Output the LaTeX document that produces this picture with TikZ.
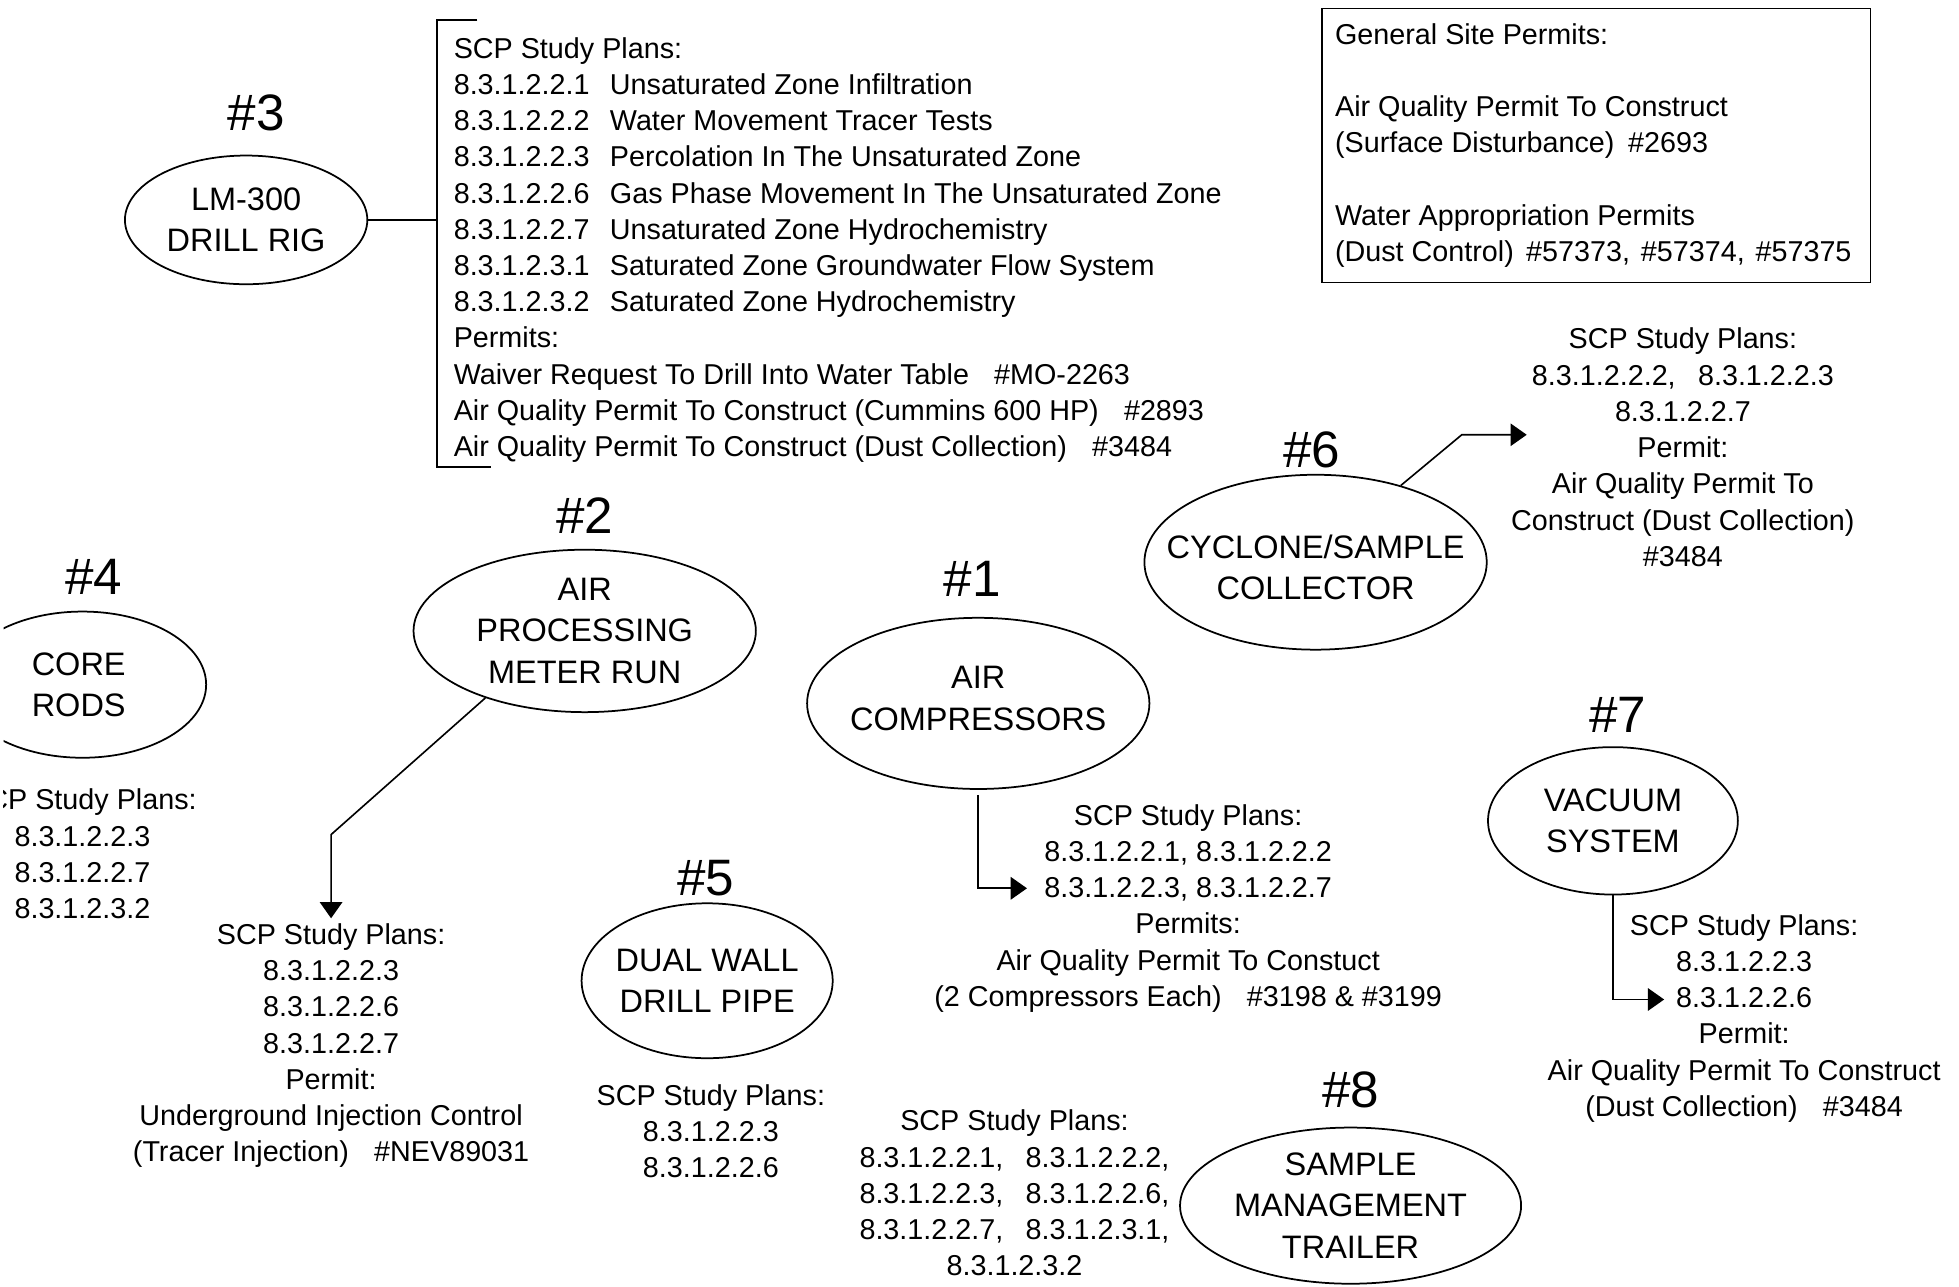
\documentclass[tikz,border=0pt]{standalone}
\usepackage{fontspec}
\setmainfont{Liberation Sans}
\usetikzlibrary{shapes.geometric,arrows.meta}

\begin{document}
\begin{tikzpicture}[x=1pt,y=-1pt,
  unitshape/.style={ellipse, draw, line width=1.4pt, inner sep=0pt},
  tag/.style={font=\fontsize{41}{41}\selectfont, inner sep=0pt},
  unitname/.style={align=center, font=\fontsize{26}{33}\selectfont, inner sep=0pt},
  info/.style={align=center, font=\fontsize{23}{29}\selectfont, inner sep=0pt},
  link/.style={line width=1.3pt},
  linkarrow/.style={line width=1.3pt, -{Triangle[length=13pt,width=18pt]}},
]
\useasboundingbox (0,0) rectangle (1568,1030);
\clip (3,0) rectangle (1568,1030);

% ---------- equipment units ----------
\node[unitshape, minimum width=194pt, minimum height=103pt] (e3) at (197,176) {};
\node[unitname] (n3) at (197,176) {LM-300\\DRILL RIG};
\node[tag] (t3) at (205,90) {\#3};

\node[unitshape, minimum width=274pt, minimum height=130pt] (e2) at (468,505) {};
\node[unitname] (n2) at (468,505) {AIR\\PROCESSING\\METER RUN};
\node[tag] (t2) at (468,413) {\#2};

\node[unitshape, minimum width=198pt, minimum height=117pt] (e4) at (66,548) {};
\node[unitname] (n4) at (63,548) {CORE\\RODS};
\node[tag] (t4) at (75,462) {\#4};

\node[unitshape, minimum width=274pt, minimum height=137pt] (e1) at (783,563) {};
\node[unitname] (n1) at (783,559) {AIR\\COMPRESSORS};
\node[tag] (t1) at (778,463) {\#1};

\node[unitshape, minimum width=274pt, minimum height=140pt] (e6) at (1053,450) {};
\node[unitname] (n6) at (1053,454) {CYCLONE/SAMPLE\\COLLECTOR};
\node[tag] (t6) at (1050,360) {\#6};

\node[unitshape, minimum width=201pt, minimum height=124pt] (e5) at (566,785) {};
\node[unitname] (n5) at (566,785) {DUAL WALL\\DRILL PIPE};
\node[tag] (t5) at (565,703) {\#5};

\node[unitshape, minimum width=200pt, minimum height=118pt] (e7) at (1291,657) {};
\node[unitname] (n7) at (1291,657) {VACUUM\\SYSTEM};
\node[tag] (t7) at (1295,572) {\#7};

\node[unitshape, minimum width=273pt, minimum height=125pt] (e8) at (1081,965) {};
\node[unitname] (n8) at (1081,965) {SAMPLE\\MANAGEMENT\\TRAILER};
\node[tag] (t8) at (1081,872) {\#8};

% ---------- drill rig study plans and permits ----------
\node[anchor=north west, inner sep=0pt, font=\fontsize{23}{29}\selectfont] (list3) at (363,26) {%
\begin{tabular}{@{}p{125pt}@{}l@{}}
\multicolumn{2}{@{}l@{}}{SCP Study Plans:}\\
8.3.1.2.2.1 & Unsaturated Zone Infiltration\\
8.3.1.2.2.2 & Water Movement Tracer Tests\\
8.3.1.2.2.3 & Percolation In The Unsaturated Zone\\
8.3.1.2.2.6 & Gas Phase Movement In The Unsaturated Zone\\
8.3.1.2.2.7 & Unsaturated Zone Hydrochemistry\\
8.3.1.2.3.1 & Saturated Zone Groundwater Flow System\\
8.3.1.2.3.2 & Saturated Zone Hydrochemistry\\
\multicolumn{2}{@{}l@{}}{Permits:}\\
\multicolumn{2}{@{}l@{}}{Waiver Request To Drill Into Water Table\hspace{0.6em} \#MO-2263}\\
\multicolumn{2}{@{}l@{}}{Air Quality Permit To Construct (Cummins 600 HP)\hspace{0.6em} \#2893}\\
\multicolumn{2}{@{}l@{}}{Air Quality Permit To Construct (Dust Collection)\hspace{0.6em} \#3484}
\end{tabular}};
\coordinate (bk) at (350,16);
\coordinate (bt) at (382,16);
\coordinate (bb) at (393,374);
\draw[link] (bt) -- (bk) -- (350,374) -- (bb);
\draw[link] (e3.east) -- (e3.east -| bk);

% ---------- general site permits ----------
\node[draw, line width=1.2pt, minimum width=439pt, minimum height=219pt, inner sep=0pt] (gsp) at (1277.5,116.5) {};
\node[anchor=west, align=left, inner sep=0pt, font=\fontsize{23}{29}\selectfont] (gsptext) at ([xshift=11pt]gsp.west) {%
General Site Permits:\\[29pt]
Air Quality Permit To Construct\\
(Surface Disturbance)\hspace{0.2em} \#2693\\[29pt]
Water Appropriation Permits\\
(Dust Control)\hspace{0.15em} \#57373,\hspace{0.1em} \#57374,\hspace{0.1em} \#57375};

% ---------- study plans and permits of the other units ----------
\node[info] (i6) at (1347,358) {SCP Study Plans:\\
8.3.1.2.2.2,\hspace{0.5em} 8.3.1.2.2.3\\
8.3.1.2.2.7\\
Permit:\\
Air Quality Permit To\\
Construct (Dust Collection)\\
\#3484};

\node[info] (i2) at (265,837) {SCP Study Plans:\\
8.3.1.2.2.3\\
8.3.1.2.2.6\\
8.3.1.2.2.7\\
Permit:\\
Underground Injection Control\\
(Tracer Injection)\hspace{0.6em} \#NEV89031};

\node[info] (i4) at (66,683.5) {SCP Study Plans:\\
8.3.1.2.2.3\\
8.3.1.2.2.7\\
8.3.1.2.3.2};

\node[info] (i1) at (951,727) {SCP Study Plans:\\
8.3.1.2.2.1, 8.3.1.2.2.2\\
8.3.1.2.2.3, 8.3.1.2.2.7\\
Permits:\\
Air Quality Permit To Constuct\\
(2 Compressors Each)\hspace{0.6em} \#3198 \& \#3199};

\node[info] (i5) at (569,905.5) {SCP Study Plans:\\
8.3.1.2.2.3\\
8.3.1.2.2.6};

\node[info] (i8) at (812,955) {SCP Study Plans:\\
8.3.1.2.2.1,\hspace{0.5em} 8.3.1.2.2.2,\\
8.3.1.2.2.3,\hspace{0.5em} 8.3.1.2.2.6,\\
8.3.1.2.2.7,\hspace{0.5em} 8.3.1.2.3.1,\\
8.3.1.2.3.2};

\node[info] (i7) at (1396,815) {SCP Study Plans:\\
8.3.1.2.2.3\\
8.3.1.2.2.6\\
Permit:\\
Air Quality Permit To Construct\\
(Dust Collection)\hspace{0.6em} \#3484};

% ---------- connectors ----------
\coordinate (k2) at (265,668);
\coordinate (p2) at (265,735);
\draw[linkarrow] (e2.214) -- (k2) -- (p2);

\coordinate (k6) at (1170,348);
\coordinate (p6) at (1222,348);
\draw[linkarrow] (e6.42) -- (k6) -- (p6);

\coordinate (p1) at (822,711);
\draw[linkarrow, shorten <=4pt] (e1.south) |- (p1);

\coordinate (p7) at (1332,800);
\draw[linkarrow] (e7.south) |- (p7);
\end{tikzpicture}
\end{document}
